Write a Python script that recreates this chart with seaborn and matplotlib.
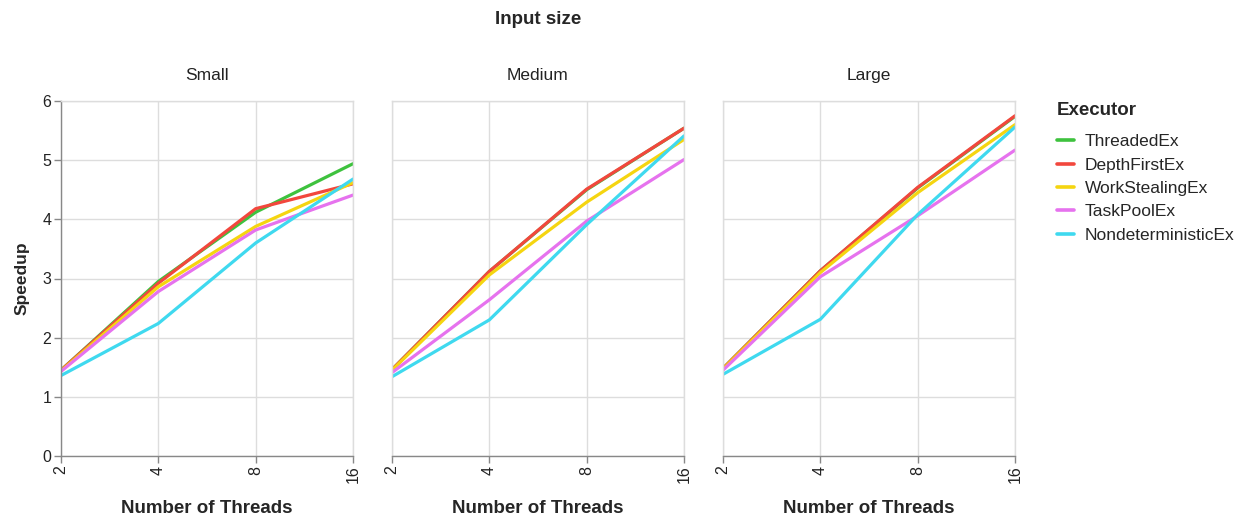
import matplotlib
matplotlib.use("Agg")
import matplotlib.pyplot as plt
from matplotlib.lines import Line2D
import seaborn as sns
import pandas as pd

# Thread counts on the x axis
threads = [2, 4, 8, 16]
sizes = ["Small", "Medium", "Large"]
executors = ["ThreadedEx", "DepthFirstEx", "WorkStealingEx", "TaskPoolEx", "NondeterministicEx"]
colors = ["#3ec23e", "#f2473d", "#f5d510", "#e672ee", "#3fd9ef"]

# Speedup per input size, one list per executor (values at 2, 4, 8, 16 threads)
small_threaded = [1.45, 2.95, 4.12, 4.94]
small_depthfirst = [1.45, 2.92, 4.18, 4.60]
small_worksteal = [1.44, 2.86, 3.88, 4.62]
small_taskpool = [1.43, 2.78, 3.82, 4.41]
small_nondet = [1.36, 2.24, 3.60, 4.68]

medium_threaded = [1.46, 3.12, 4.50, 5.54]
medium_depthfirst = [1.46, 3.12, 4.51, 5.54]
medium_worksteal = [1.45, 3.06, 4.29, 5.35]
medium_taskpool = [1.41, 2.64, 3.97, 5.01]
medium_nondet = [1.34, 2.30, 3.91, 5.41]

large_threaded = [1.48, 3.13, 4.53, 5.74]
large_depthfirst = [1.48, 3.13, 4.54, 5.75]
large_worksteal = [1.47, 3.10, 4.45, 5.60]
large_taskpool = [1.45, 3.03, 4.06, 5.17]
large_nondet = [1.38, 2.31, 4.08, 5.56]

series = {
    "Small": [small_threaded, small_depthfirst, small_worksteal, small_taskpool, small_nondet],
    "Medium": [medium_threaded, medium_depthfirst, medium_worksteal, medium_taskpool, medium_nondet],
    "Large": [large_threaded, large_depthfirst, large_worksteal, large_taskpool, large_nondet],
}

rows = []
for size in sizes:
    for ex, vals in zip(executors, series[size]):
        for t, v in zip(threads, vals):
            rows.append({"size": size, "executor": ex, "threads": t, "speedup": v})
df = pd.DataFrame(rows)

sns.set_theme(style="white")
plt.rcParams["font.family"] = ["Liberation Sans", "DejaVu Sans"]

W, H = 1254, 520
fig = plt.figure(figsize=(W / 100, H / 100), dpi=100)

panel_left = [61, 392, 723]
panel_w = 292
top_px, bot_px = 101, 456
grid_c = "#dddddd"
axis_c = "#888888"
text_c = "#222222"

axes = []
for i, size in enumerate(sizes):
    ax = fig.add_axes([panel_left[i] / W, 1 - bot_px / H, panel_w / W, (bot_px - top_px) / H])
    sub = df[df["size"] == size]
    sns.lineplot(data=sub, x="threads", y="speedup", hue="executor",
                 hue_order=executors, palette=colors, linewidth=2.3,
                 ax=ax, legend=False)
    ax.set_xscale("log", base=2)
    ax.set_xlim(2, 16)
    ax.set_ylim(0, 6)
    ax.set_xticks(threads)
    ax.set_xticklabels([str(t) for t in threads], rotation=90, fontsize=11.5, color=text_c)
    ax.minorticks_off()
    ax.set_yticks(range(0, 7))
    ax.grid(True, color=grid_c, linewidth=1)
    ax.set_axisbelow(True)
    for sp in ax.spines.values():
        sp.set_color(grid_c)
        sp.set_linewidth(1)
    ax.spines["bottom"].set_color(axis_c)
    ax.tick_params(axis="x", bottom=True, length=5, width=1, color=axis_c, pad=2)
    if i == 0:
        ax.spines["left"].set_color(axis_c)
        ax.tick_params(axis="y", left=True, length=5, width=1, color=axis_c,
                       labelsize=11.5, labelcolor=text_c, pad=2)
        ax.set_ylabel("Speedup", fontsize=12.5, fontweight="bold", labelpad=9)
    else:
        ax.tick_params(axis="y", left=False, labelleft=False)
        ax.set_ylabel("")
    ax.set_xlabel("Number of Threads", fontsize=13.5, fontweight="bold", labelpad=12)
    ax.set_title(size, fontsize=12.5, pad=15, color=text_c)
    axes.append(ax)

fig.text(538 / W, 1 - 19 / H, "Input size", ha="center", va="center",
         fontsize=13.5, fontweight="bold")

handles = [Line2D([0], [0], color=c, linewidth=2.6) for c in colors]
leg = fig.legend(handles, executors, title="Executor", loc="upper left",
                 bbox_to_anchor=(1057 / W, 1 - 102 / H), frameon=False,
                 fontsize=12.5, handlelength=1.0, handletextpad=0.6,
                 labelspacing=0.47, borderaxespad=0, borderpad=0)
leg.get_title().set_fontweight("bold")
leg.get_title().set_fontsize(13.5)
leg._legend_box.align = "left"
leg._legend_box.sep = 11

fig.savefig("out.png", dpi=100)
